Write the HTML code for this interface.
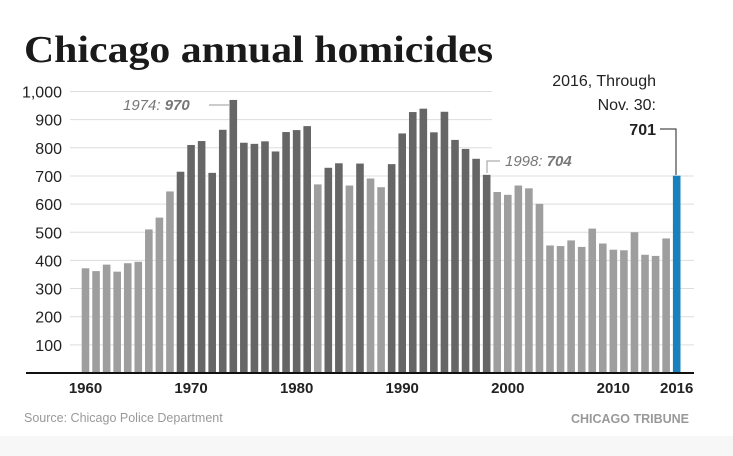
<!DOCTYPE html>
<html><head><meta charset="utf-8"><style>
body{margin:0;background:#fff;}
svg{display:block;font-family:"Liberation Sans",sans-serif;}
</style></head><body>
<svg width="733" height="456">
<rect x="0" y="436" width="733" height="20" fill="#f7f7f7"/>
<text x="24" y="62" font-family="Liberation Serif,serif" font-weight="bold" font-size="38" fill="#1a1a1a" textLength="469" lengthAdjust="spacingAndGlyphs">Chicago annual homicides</text>
<g id="grid"></g><g id="bars"></g><g id="labels"></g>
<line x1="26" y1="373" x2="694" y2="373" stroke="#111" stroke-width="2"/>
<text x="123" y="110" font-size="15" fill="#777" font-style="italic">1974: <tspan font-weight="bold">970</tspan></text>
<line x1="209" y1="105" x2="229" y2="105" stroke="#999"/>
<text x="505" y="166" font-size="15" fill="#777" font-style="italic">1998: <tspan font-weight="bold">704</tspan></text>
<path d="M487 173 V161 H500" fill="none" stroke="#999"/>
<text x="656" y="86" font-size="16" fill="#222" text-anchor="end">2016, Through</text>
<text x="656" y="110" font-size="16" fill="#222" text-anchor="end">Nov. 30:</text>
<text x="656" y="135" font-size="16" font-weight="bold" fill="#222" text-anchor="end">701</text>
<path d="M660 129 H676 V175" fill="none" stroke="#222"/>
<text x="24" y="422" font-size="12.5" fill="#999">Source: Chicago Police Department</text>
<text x="689" y="423" font-size="12.5" font-weight="bold" fill="#999" text-anchor="end">CHICAGO TRIBUNE</text>
</svg>
<script>
const years=[1960,1961,1962,1963,1964,1965,1966,1967,1968,1969,1970,1971,1972,1973,1974,1975,1976,1977,1978,1979,1980,1981,1982,1983,1984,1985,1986,1987,1988,1989,1990,1991,1992,1993,1994,1995,1996,1997,1998,1999,2000,2001,2002,2003,2004,2005,2006,2007,2008,2009,2010,2011,2012,2013,2014,2015,2016];
const homicides=[372,362,385,360,390,395,510,552,645,715,810,824,711,864,970,818,814,823,787,856,863,877,670,729,745,666,744,691,660,742,851,927,939,855,928,828,796,761,704,643,633,666,656,601,453,451,471,448,513,460,438,436,500,420,416,478,701];
const darkYears=[1969,1970,1971,1972,1973,1974,1975,1976,1977,1978,1979,1980,1981,1983,1984,1986,1989,1990,1991,1992,1993,1994,1995,1996,1997,1998];
const yTicks=[100,200,300,400,500,600,700,800,900,1000];
const xTicks=[1960,1970,1980,1990,2000,2010,2016];
const ns="http://www.w3.org/2000/svg";
const x=yr=>85.5+(yr-1960)*10.557;
const y=v=>373-v*0.2815;
const grid=document.getElementById('grid'),bars=document.getElementById('bars'),labels=document.getElementById('labels');
yTicks.forEach(t=>{
 const l=document.createElementNS(ns,'line');
 l.setAttribute('x1',70);l.setAttribute('x2',t>=800?492:694);
 l.setAttribute('y1',y(t));l.setAttribute('y2',y(t));
 l.setAttribute('stroke','#ddd');
 
 
 grid.appendChild(l);
 const tx=document.createElementNS(ns,'text');
 tx.setAttribute('x',62);tx.setAttribute('y',y(t)+6);tx.setAttribute('text-anchor','end');
 tx.setAttribute('font-size','16');tx.setAttribute('fill','#222');
 tx.textContent=t===1000?'1,000':String(t);
 
 
 labels.appendChild(tx);
});
years.forEach((yr,i)=>{
 const r=document.createElementNS(ns,'rect');
 r.setAttribute('x',x(yr)-3.8);r.setAttribute('width',7.6);
 r.setAttribute('y',y(homicides[i]));r.setAttribute('height',373-y(homicides[i]));
 r.setAttribute('fill',yr===2016?'#1a80bb':(darkYears.includes(yr)?'#666':'#9e9e9e'));
 
 
 bars.appendChild(r);
});
xTicks.forEach(t=>{
 const tx=document.createElementNS(ns,'text');
 tx.setAttribute('x',x(t));tx.setAttribute('y',393);tx.setAttribute('text-anchor','middle');
 tx.setAttribute('font-size','15');tx.setAttribute('font-weight','bold');tx.setAttribute('fill','#222');
 tx.textContent=t;
 
 
 labels.appendChild(tx);
});
</script>
</body></html>
